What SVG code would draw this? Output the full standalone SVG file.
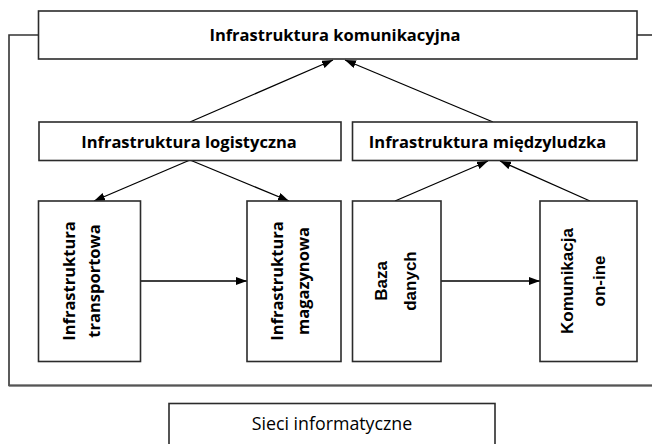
<svg xmlns="http://www.w3.org/2000/svg" width="652" height="444" viewBox="0 0 652 444">
  <style>
    .box { fill: #ffffff; stroke: #2b2b2b; stroke-width: 1.6; }
    .lbl { font-family: "Open Sans", "Noto Sans", sans-serif; font-weight: 700; font-size: 16.5px; fill: #000; }
    .lbla { font-family: "Liberation Sans", Arial, sans-serif; font-weight: 700; font-size: 17px; fill: #000; }
    .reg { font-family: "Open Sans", "Noto Sans", sans-serif; font-weight: 400; font-size: 17.8px; fill: #000; }
    .conn { stroke: #000; stroke-width: 1.3; fill: none; }
    .frame { stroke: #333; stroke-width: 1.6; fill: none; }
  </style>
  <defs>
    <marker id="arr" markerUnits="userSpaceOnUse" markerWidth="11" markerHeight="8" refX="11" refY="4" orient="auto">
      <path d="M0,0 L11,4 L0,8 Z" fill="#000"/>
    </marker>
  </defs>
  <rect width="652" height="444" fill="#ffffff"/>

  <g id="frame">
    <polyline class="frame" points="38,35 9,35 9,385.5 652,385.5"/>
    <line x1="9" y1="385.5" x2="652" y2="385.5" stroke="#555" stroke-width="2.2"/>
    <line class="frame" x1="637" y1="35" x2="652" y2="35"/>
  </g>

  <g id="connectors">
    <line class="conn" x1="190" y1="122" x2="333" y2="60" marker-end="url(#arr)"/>
    <line class="conn" x1="493" y1="122" x2="345" y2="60" marker-end="url(#arr)"/>
    <line class="conn" x1="190" y1="160" x2="94" y2="201" marker-end="url(#arr)"/>
    <line class="conn" x1="190" y1="160" x2="289" y2="201" marker-end="url(#arr)"/>
    <line class="conn" x1="395" y1="201" x2="488" y2="161" marker-end="url(#arr)"/>
    <line class="conn" x1="590" y1="201" x2="500" y2="161" marker-end="url(#arr)"/>
    <line class="conn" x1="140" y1="281" x2="247" y2="281" marker-end="url(#arr)"/>
    <line class="conn" x1="441" y1="281" x2="540" y2="281" marker-end="url(#arr)"/>
  </g>

  <g id="komunikacyjna">
    <rect class="box" x="38.5" y="11" width="598.5" height="48"/>
    <text class="lbl" x="335" y="41" text-anchor="middle">Infrastruktura komunikacyjna</text>
  </g>

  <g id="logistyczna">
    <rect class="box" x="39" y="122" width="302" height="38.5"/>
    <text class="lbl" x="189" y="148" text-anchor="middle">Infrastruktura logistyczna</text>
  </g>

  <g id="miedzyludzka">
    <rect class="box" x="352.5" y="122" width="284.5" height="38.5"/>
    <text class="lbl" x="487.5" y="148" text-anchor="middle">Infrastruktura międzyludzka</text>
  </g>

  <g id="transportowa">
    <rect class="box" x="38.5" y="201" width="102" height="160.5"/>
    <text class="lbl" x="75" y="281" text-anchor="middle" transform="rotate(-90 75 281)">Infrastruktura</text>
    <text class="lbl" x="100" y="281" text-anchor="middle" transform="rotate(-90 100 281)">transportowa</text>
  </g>

  <g id="magazynowa">
    <rect class="box" x="247" y="201" width="94" height="160.5"/>
    <text class="lbl" x="283" y="281" text-anchor="middle" transform="rotate(-90 283 281)">Infrastruktura</text>
    <text class="lbl" x="309" y="281" text-anchor="middle" transform="rotate(-90 309 281)">magazynowa</text>
  </g>

  <g id="baza">
    <rect class="box" x="352.5" y="201" width="88.5" height="160.5"/>
    <text class="lbla" x="387" y="281" text-anchor="middle" transform="rotate(-90 387 281)">Baza</text>
    <text class="lbla" x="416" y="281" text-anchor="middle" transform="rotate(-90 416 281)">danych</text>
  </g>

  <g id="komunikacja">
    <rect class="box" x="540" y="201" width="97" height="160.5"/>
    <text class="lbla" x="573" y="281" text-anchor="middle" transform="rotate(-90 573 281)">Komunikacja</text>
    <text class="lbla" x="605" y="281" text-anchor="middle" transform="rotate(-90 605 281)">on-ine</text>
  </g>

  <g id="sieci">
    <rect class="box" x="169" y="403.5" width="326" height="45"/>
    <text class="reg" x="332" y="430" text-anchor="middle">Sieci informatyczne</text>
  </g>
</svg>
